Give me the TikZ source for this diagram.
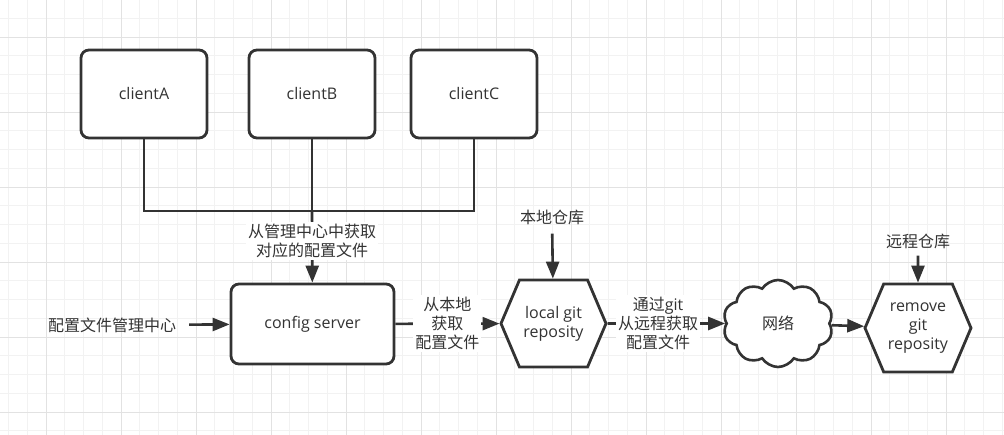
\documentclass[tikz,border=0pt]{standalone}
\usepackage{fontspec}
\setmainfont{Open Sans}
\newfontfamily\cjk{Noto Sans CJK SC}
\usetikzlibrary{arrows.meta,shapes.symbols}
\definecolor{linec}{HTML}{333333}
\definecolor{textc}{HTML}{333333}
\definecolor{minorg}{HTML}{F2F2F2}
\definecolor{majorg}{HTML}{E2E2E2}
\tikzset{
  txt/.style={text=textc,font={\fontsize{16}{19}\selectfont},align=center,inner sep=0pt},
  box/.style={txt,draw=linec,line width=2.8pt,rounded corners=8pt,fill=white},
  hexa/.style={txt,draw=linec,line width=2.8pt,fill=white,shape=signal,signal to=east and west,
     signal pointer angle=134,minimum width=105pt,minimum height=87pt},
  cloudy/.style={txt,draw=linec,line width=2.6pt,fill=white,shape=cloud,cloud puffs=10,
     cloud puff arc=115,aspect=1.27,minimum width=110pt,minimum height=87pt},
  conn/.style={draw=linec,line width=2.6pt},
  arr/.style={conn,-{Triangle[length=17pt,width=13pt]}},
  elabel/.style={txt,fill=white,inner sep=2pt},
}
\begin{document}
\begin{tikzpicture}[x=1pt,y=-1pt]
\useasboundingbox (0,0) rectangle (1004,435);
\fill[white] (0,0) rectangle (1004,435);
% grid
\foreach \i in {0,...,53} \draw[minorg,line width=0.9pt] ({8.5+18.75*\i},0) -- ({8.5+18.75*\i},435);
\foreach \i in {0,...,22} \draw[minorg,line width=0.9pt] (0,{18.25+18.75*\i}) -- (1004,{18.25+18.75*\i});
\foreach \i in {0,...,12} \draw[majorg,line width=0.9pt] ({46+75*\i},0) -- ({46+75*\i},435);
\foreach \i in {0,...,5} \draw[majorg,line width=0.9pt] (0,{37+75*\i}) -- (1004,{37+75*\i});

% nodes
\node[box,minimum width=126pt,minimum height=88pt] (clientA) at (144,94) {clientA};
\node[box,minimum width=126pt,minimum height=88pt] (clientB) at (312,94) {clientB};
\node[box,minimum width=126pt,minimum height=88pt] (clientC) at (474,94) {clientC};
\node[box,minimum width=163pt,minimum height=80pt] (server) at (312.5,324) {config server};
\node[hexa] (local) at (553.5,323.5) {local git\\reposity};
\node[cloudy] (net) at (778,323.5) {\cjk 网络};
\node[hexa,minimum height=88pt,minimum width=106pt] (remote) at (918,328) {remove\\git\\reposity};
\node[txt] (mgr) at (112,325) {\cjk 配置文件管理中心};
\node[txt] (localrepo) at (552,217) {\cjk 本地仓库};
\node[txt] (remoterepo) at (918,241) {\cjk 远程仓库};
\coordinate (bus) at (312,211);

% connectors
\draw[conn] (clientA.south) |- (bus) -| (clientC.south);
\draw[conn] (clientB.south) -- (bus);
\draw[arr] (bus) -- node[elabel,pos=0.42]{\cjk 从管理中心中获取\\\cjk 对应的配置文件} (server);
\draw[arr,shorten <=13pt] (mgr) -- (server);
\draw[arr] (server) -- node[elabel,pos=0.5]{\cjk 从本地\\\cjk 获取\\\cjk 配置文件} (local);
\draw[arr,shorten <=9pt] (localrepo) -- (local);
\draw[arr] (local) -- node[elabel,pos=0.43]{{\cjk 通过}git\\\cjk 从远程获取\\\cjk 配置文件} (net);
\draw[arr] (net) -- (remote);
\draw[arr,shorten <=7pt] (remoterepo) -- (remote);
\end{tikzpicture}
\end{document}
